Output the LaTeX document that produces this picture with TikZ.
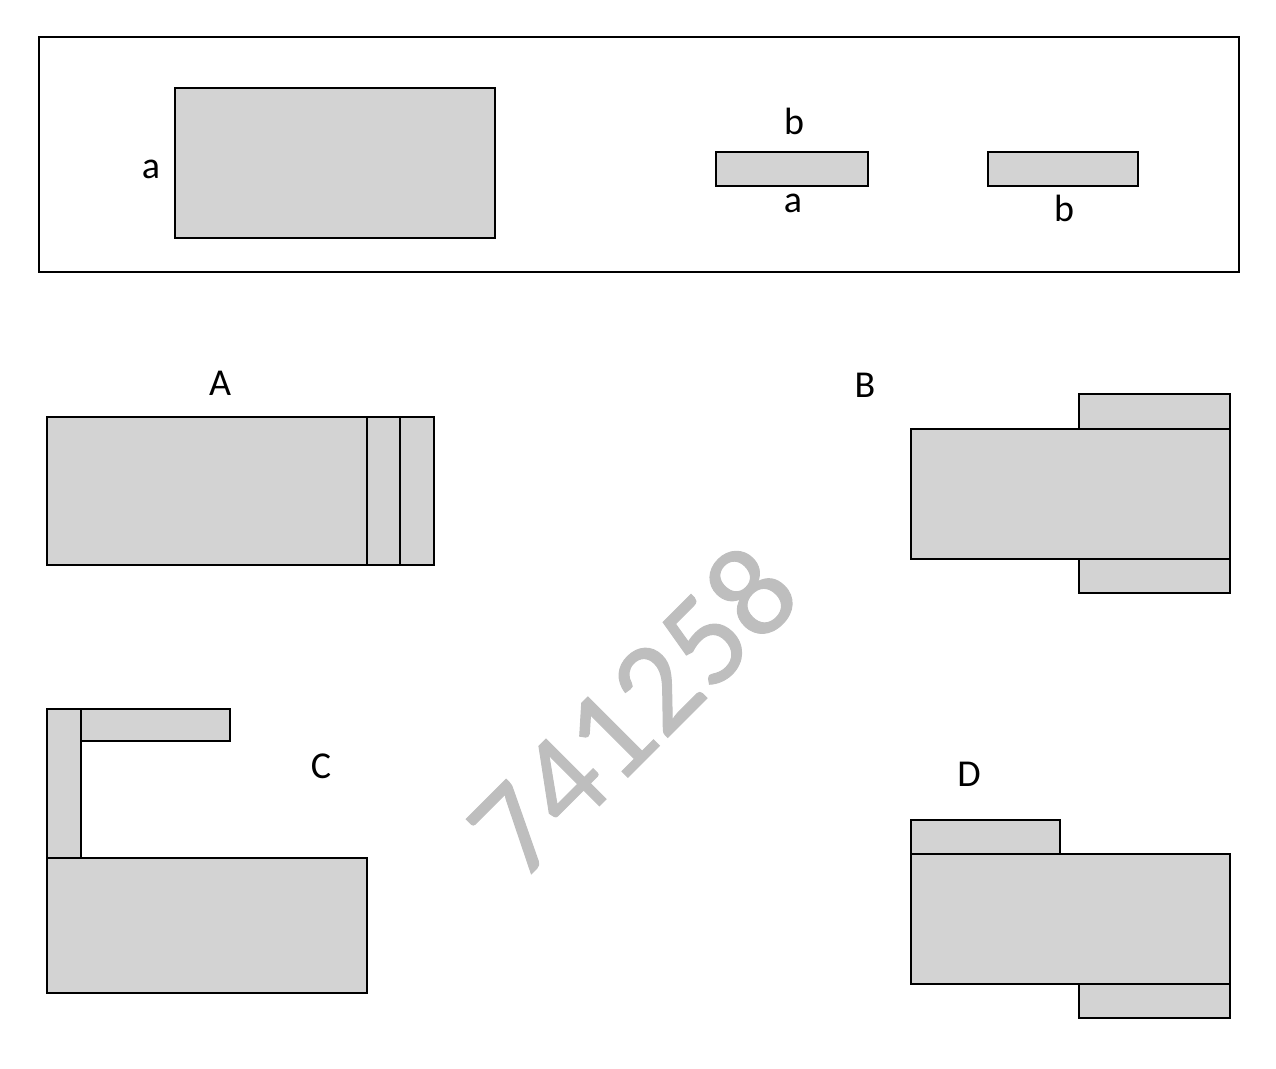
\documentclass[tikz,border=0pt]{standalone}
\usepackage{fontspec}
\setmainfont{Carlito}
\newfontfamily\wmfont[FakeBold=0.8]{Carlito}
\definecolor{fillg}{RGB}{211,211,211}
\definecolor{wmark}{RGB}{190,190,190}
\tikzset{
  piece/.style={fill=fillg, draw=black, line width=2.6pt},
  frame/.style={draw=black, line width=2.6pt},
  lbl/.style={inner sep=0pt, font=\fontsize{38}{44}\selectfont},
  wm/.style={inner sep=0pt, text=wmark, rotate=45, font=\wmfont\fontsize{132}{150}\selectfont}
}
\begin{document}
\begin{tikzpicture}[x=1pt,y=-1pt]
\useasboundingbox (0,0) rectangle (1276,1068);
% top panel
\draw[frame] (39,37) rectangle (1239,272);
\draw[piece] (175,88) rectangle (495,238);
\node[lbl] (la) at (151,169) {a};
\draw[piece] (716,152) rectangle (868,186);
\node[lbl] (lb1) at (794,121) {b};
\node[lbl] (la2) at (793,203) {a};
\draw[piece] (988,152) rectangle (1138,186);
\node[lbl] (lb2) at (1064,208) {b};
% A
\node[lbl] (A) at (220,383) {A};
\draw[piece] (47,417) rectangle (367,565);
\draw[piece] (367,417) rectangle (400,565);
\draw[piece] (400,417) rectangle (434,565);
% B
\node[lbl] (B) at (865,385) {B};
\draw[piece] (1079,394) rectangle (1230,429);
\draw[piece] (1079,559) rectangle (1230,593);
\draw[piece] (911,429) rectangle (1230,559);
% C
\node[lbl] (C) at (321,766) {C};
\draw[piece] (47,709) rectangle (81,858);
\draw[piece] (81,709) rectangle (230,741);
\draw[piece] (47,858) rectangle (367,993);
% D
\node[lbl] (D) at (969,774) {D};
\draw[piece] (911,820) rectangle (1060,854);
\draw[piece] (1079,984) rectangle (1230,1018);
\draw[piece] (911,854) rectangle (1230,984);
% watermark
\node[wm] (wmk) at (632,710) {741258};
\end{tikzpicture}
\end{document}
